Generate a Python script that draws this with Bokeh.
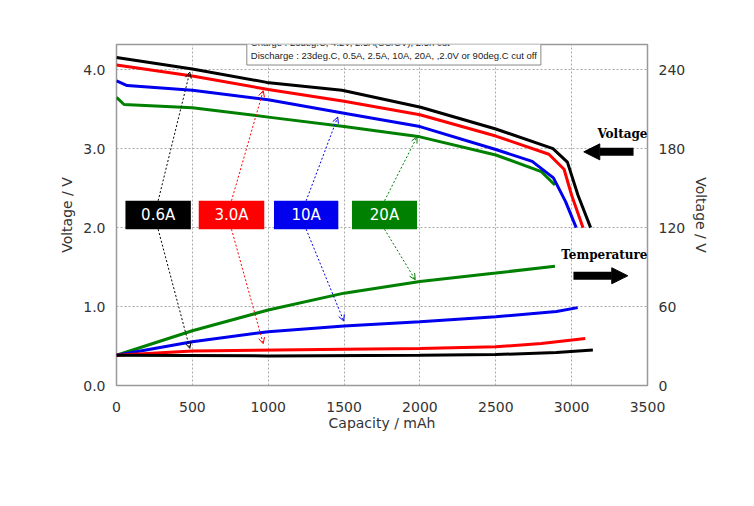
from bokeh.plotting import figure
from bokeh.models import Range1d, LinearAxis, Label, Arrow, NormalHead, OpenHead, NumeralTickFormatter
from bokeh.embed import file_html
from bokeh.resources import INLINE
from bokeh.core.properties import value

# Voltage curves (capacity mAh, voltage V)
v_black_x = [0, 500, 990, 1486, 2005, 2500, 2877, 2972, 3042, 3125]
v_black_y = [4.155, 4.01, 3.84, 3.74, 3.525, 3.25, 3.0, 2.83, 2.41, 2.0]
v_red_x = [0, 500, 1000, 1500, 2000, 2500, 2850, 2950, 3000, 3075]
v_red_y = [4.06, 3.92, 3.75, 3.60, 3.43, 3.16, 2.93, 2.74, 2.41, 2.0]
v_blue_x = [0, 70, 500, 1000, 1500, 2000, 2500, 2740, 2880, 2960, 3030]
v_blue_y = [3.86, 3.80, 3.74, 3.62, 3.45, 3.28, 2.99, 2.84, 2.63, 2.33, 2.0]
v_green_x = [0, 50, 500, 1000, 1500, 2000, 2500, 2800, 2890]
v_green_y = [3.65, 3.56, 3.52, 3.40, 3.28, 3.15, 2.92, 2.71, 2.54]

# Temperature curves (capacity mAh, deg.C)
t_black_x = [0, 1000, 2000, 2500, 2900, 3140]
t_black_y = [23, 22.5, 23, 23.5, 25, 27]
t_red_x = [0, 500, 1500, 2000, 2500, 2800, 3090]
t_red_y = [23, 26.3, 27.6, 28.1, 29.4, 31.9, 35.7]
t_blue_x = [0, 500, 1000, 1500, 2000, 2500, 2900, 3040]
t_blue_y = [23, 33.2, 40.9, 45.2, 48.5, 52.3, 56.2, 59.2]
t_green_x = [0, 500, 1000, 1500, 2000, 2500, 2890]
t_green_y = [23, 41.6, 57.4, 70.2, 79.1, 85.5, 90.6]

labels = ["0.6A", "3.0A", "10A", "20A"]
colors = ["black", "#ff0000", "#0000ee", "#008000"]
box_left = [59, 542, 1038, 1552]
box_right = [490, 974, 1462, 1981]
v_target = [(483, 3.97), (967, 3.735), (1458, 3.40), (1981, 3.15)]
t_target = [(483, 0.47), (967, 0.53), (1498, 0.817), (1969, 1.34)]

x_ticks = [0, 500, 1000, 1500, 2000, 2500, 3000, 3500]
y_ticks = [0.0, 1.0, 2.0, 3.0, 4.0]
t_ticks = [0, 60, 120, 180, 240]

YMAX = 4.32
p = figure(width=740, height=490, output_backend="svg", toolbar_location=None,
           x_range=Range1d(0, 3500), y_range=Range1d(0, YMAX),
           min_border_left=116, min_border_right=93, min_border_top=44, min_border_bottom=105)
p.extra_y_ranges = {"temp": Range1d(0, YMAX * 60)}
p.outline_line_color = "#999999"
p.outline_line_width = 1.5
p.background_fill_color = "white"
p.border_fill_color = "white"

gc = "#aaaaaa"
p.xgrid.grid_line_color = gc
p.ygrid.grid_line_color = gc
p.xgrid.grid_line_dash = "2 2"
p.ygrid.grid_line_dash = "2 2"
p.xaxis.ticker = x_ticks
p.yaxis.ticker = y_ticks
p.yaxis.formatter = NumeralTickFormatter(format="0.0")

ax_r = LinearAxis(y_range_name="temp", ticker=t_ticks, axis_label="Cell temperature / deg.C")
p.add_layout(ax_r, "right")
p.xaxis.axis_label = "Capacity / mAh"
p.yaxis.axis_label = "Voltage / V"
for ax in [p.xaxis[0], p.yaxis[0], ax_r]:
    ax.axis_line_color = None
    ax.major_tick_line_color = None
    ax.minor_tick_line_color = None
    ax.major_label_text_font = "DejaVu Sans"
    ax.major_label_text_font_size = "14px"
    ax.major_label_text_color = "#333333"
    ax.axis_label_text_font = "DejaVu Sans"
    ax.axis_label_text_font_size = "14px"
    ax.axis_label_text_font_style = "normal"
    ax.axis_label_text_color = "#333333"
p.xaxis.axis_label_standoff = 0
p.xaxis.major_label_standoff = 10

vx = [v_black_x, v_red_x, v_blue_x, v_green_x]
vy = [v_black_y, v_red_y, v_blue_y, v_green_y]
tx = [t_black_x, t_red_x, t_blue_x, t_green_x]
ty = [t_black_y, t_red_y, t_blue_y, t_green_y]
for i in range(3, -1, -1):
    p.line(vx[i], vy[i], color=colors[i], line_width=3)
    p.line(tx[i], ty[i], color=colors[i], line_width=3, y_range_name="temp")

BOX_B, BOX_T = 1.98, 2.34
for i in range(4):
    cx = (box_left[i] + box_right[i]) / 2
    p.add_layout(Arrow(x_start=cx, y_start=BOX_T, x_end=v_target[i][0], y_end=v_target[i][1],
                       line_color=colors[i], line_dash="2 2", line_width=1,
                       end=OpenHead(size=6, line_color=colors[i], line_width=1)))
    p.add_layout(Arrow(x_start=cx, y_start=BOX_B, x_end=t_target[i][0], y_end=t_target[i][1],
                       line_color=colors[i], line_dash="2 2", line_width=1,
                       end=OpenHead(size=6, line_color=colors[i], line_width=1)))
p.quad(left=box_left, right=box_right, bottom=BOX_B, top=BOX_T, fill_color=colors, line_color=None)
p.text(x=[(a + b) / 2 for a, b in zip(box_left, box_right)], y=[(BOX_B + BOX_T) / 2] * 4, text=labels,
       text_color="white", text_font=value("DejaVu Sans"), text_font_size="15px",
       text_align="center", text_baseline="middle")

p.add_layout(Label(x=3500, y=3.1, text="Voltage", text_align="right", text_font="DejaVu Serif",
                   text_font_style="bold", text_font_size="12px", text_color="black"))
p.add_layout(Arrow(x_start=3408, y_start=2.96, x_end=3080, y_end=2.96, line_width=8, line_color="black",
                   end=NormalHead(size=16, fill_color="black", line_color="black")))
p.add_layout(Label(x=3500, y=1.56, text="Temperature", text_align="right", text_font="DejaVu Serif",
                   text_font_style="bold", text_font_size="12px", text_color="black"))
p.add_layout(Arrow(x_start=3012, y_start=1.39, x_end=3370, y_end=1.39, line_width=8, line_color="black",
                   end=NormalHead(size=16, fill_color="black", line_color="black")))

p.add_layout(Label(x=859, y=4.06, text="Test Condition\nCharge : 23deg.C, 4.2V, 2.5A(CC/CV), 2.5h cut\n"
                   "Discharge : 23deg.C, 0.5A, 2.5A, 10A, 20A, ,2.0V or 90deg.C cut off",
                   text_font="Liberation Sans", text_font_size="9.5px", text_color="#222222",
                   background_fill_color="white", border_line_color="#888888", padding=4,
                   text_line_height=1.15))

p.add_layout(Label(x=-634, y=-1.12, text="Discharge load characteristics of Sony VTC-6 [2].",
                   text_font="Roboto", text_font_size="13px", text_color="#333333"))

open("out.html", "w").write(file_html(p, INLINE))
